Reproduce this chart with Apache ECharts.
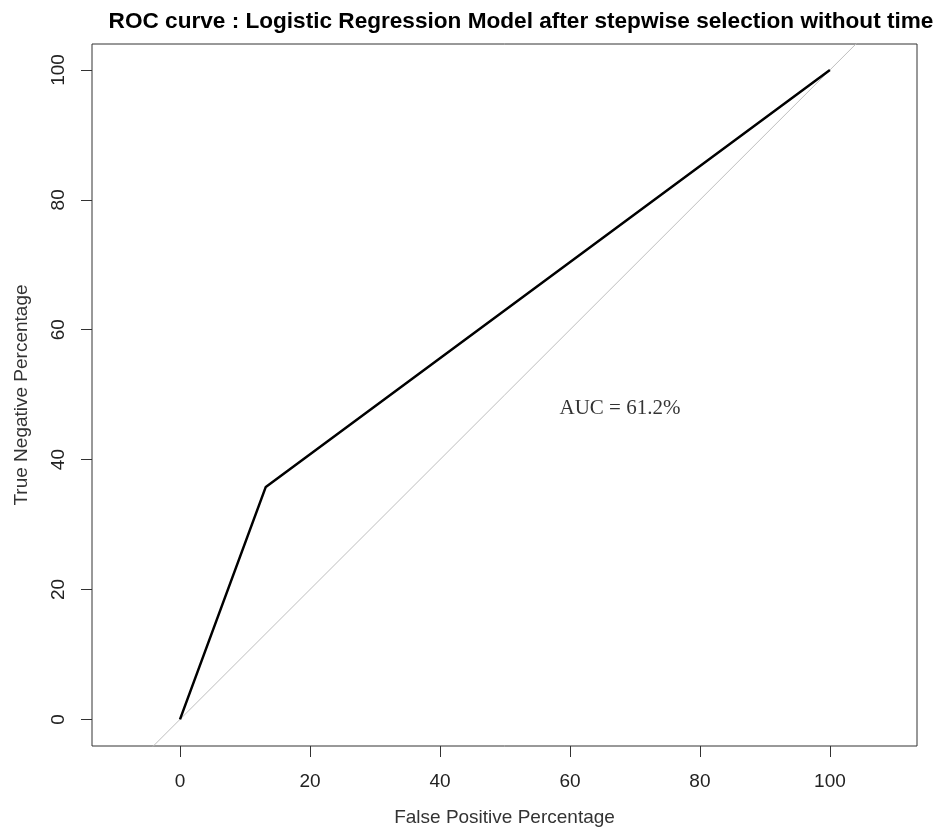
<!DOCTYPE html>
<html><head><meta charset="utf-8">
<script src="https://cdn.jsdelivr.net/npm/echarts@6/dist/echarts.min.js"></script>
<style>html,body{margin:0;padding:0;background:#fff}#c{width:941px;height:828px}</style>
</head><body><div id="c"></div>
<script>
const titleText = "ROC curve : Logistic Regression Model after stepwise selection without time";
const xName = "False Positive Percentage";
const yName = "True Negative Percentage";
const tickValues = [0, 20, 40, 60, 80, 100];
const rocX = [0, 13.2, 100];
const rocY = [0, 35.8, 100];
const diagX = [-20, 120];
const diagY = [-20, 120];
const aucLabel = "AUC = 61.2%";
const aucPos = [67.7, 47.8];

const chart = echarts.init(document.getElementById('c'));
const axisCommon = {
  axisLine: {show: false, onZero: false},
  axisTick: {show: true, inside: false, length: 11, customValues: tickValues, lineStyle: {color: '#333', width: 1}},
  axisLabel: {customValues: tickValues, color: '#222', fontSize: 19, fontFamily: 'Liberation Sans, Arial, sans-serif'},
  splitLine: {show: false},
  nameLocation: 'middle',
  nameTextStyle: {color: '#333', fontSize: 19, fontFamily: 'Liberation Sans, Arial, sans-serif'}
};
chart.setOption({
  animation: false,
  title: {text: titleText, left: 516, top: 5, textAlign: 'center',
    textStyle: {fontSize: 22.6, fontWeight: 'bold', color: '#000', fontFamily: 'Liberation Sans, Arial, sans-serif'}},
  grid: {left: 92, right: 24, top: 44, bottom: 82, outerBoundsMode: 'none', containLabel: false,
    show: true, borderColor: '#333', borderWidth: 1, backgroundColor: 'transparent'},
  xAxis: Object.assign({}, axisCommon, {type: 'value', min: -13.54, max: 113.4, name: xName, nameGap: 62,
    axisLabel: Object.assign({}, axisCommon.axisLabel, {margin: 26})}),
  yAxis: Object.assign({}, axisCommon, {type: 'value', min: -4.1, max: 104.0, name: yName, nameGap: 61,
    axisLabel: Object.assign({}, axisCommon.axisLabel, {rotate: 90, margin: 24})}),
  series: [
    {type: 'line', data: diagX.map((x, i) => [x, diagY[i]]), symbol: 'none', clip: true,
      lineStyle: {color: '#bebebe', width: 1}, silent: true},
    {type: 'line', data: rocX.map((x, i) => [x, rocY[i]]), symbol: 'none', clip: true,
      lineStyle: {color: '#000', width: 2.5}},
    {type: 'scatter', data: [aucPos], symbolSize: 0,
      label: {show: true, position: 'inside', formatter: aucLabel, color: '#000', fontSize: 21, fontFamily: 'Liberation Serif, Times New Roman, serif'}}
  ]
});
</script></body></html>
